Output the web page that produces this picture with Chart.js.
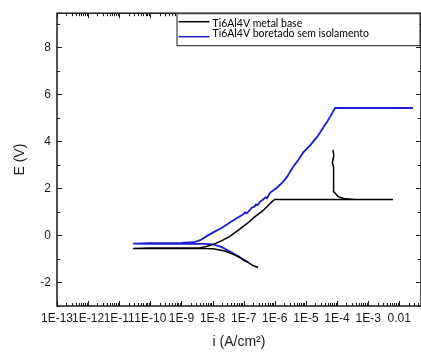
<!DOCTYPE html>
<html>
<head>
<meta charset="utf-8">
<script src="https://cdn.jsdelivr.net/npm/chart.js@4/dist/chart.umd.min.js"></script>
<style>
    body { margin: 0; background: #fff; }
    canvas { display: block; }
</style>
</head>
<body>
<canvas id="tafelChart" width="421" height="352"></canvas>
<script>
// Ti6Al4V metal base (black): i in A/cm2, E in V
const baseCurrent = [
    2.9e-7, 2.0e-7, 1.3e-7, 7.9e-8, 4.6e-8, 2.5e-8, 1.05e-8, 5.0e-9, 1.0e-9, 1.0e-10, 2.8e-11,
    1.0e-10, 1.0e-9, 4.0e-9, 6.3e-9, 1.05e-8, 2.0e-8, 3.6e-8, 7.1e-8, 1.3e-7, 2.2e-7, 3.9e-7,
    5.6e-7, 8.1e-7, 1.0e-6, 1.0e-5, 1.0e-4, 1.0e-3, 6.3e-3,
    3.8e-4, 1.6e-4, 1.1e-4, 7.9e-5, 7.6e-5, 7.9e-5, 7.1e-5, 7.9e-5, 7.4e-5
];
const basePotential = [
    -1.36, -1.28, -1.12, -0.95, -0.80, -0.66, -0.57, -0.56, -0.56, -0.56, -0.55,
    -0.53, -0.53, -0.52, -0.47, -0.38, -0.22, -0.04, 0.25, 0.51, 0.78, 1.02,
    1.22, 1.44, 1.53, 1.53, 1.53, 1.53, 1.53,
    1.53, 1.57, 1.65, 1.86, 2.40, 2.90, 3.10, 3.40, 3.64
];

// Ti6Al4V boretado sem isolamento (blue)
const boridedCurrent = [
    1.38e-7, 1.0e-7, 7.6e-8, 3.6e-8, 2.0e-8, 1.05e-8, 5.0e-9, 1.0e-9, 1.0e-10, 2.8e-11,
    1.0e-10, 1.0e-9, 2.5e-9, 4.0e-9, 6.3e-9, 1.05e-8, 2.0e-8, 3.6e-8, 6.3e-8, 9.5e-8,
    1.12e-7, 1.26e-7, 1.86e-7, 2.2e-7, 2.5e-7, 2.8e-7, 3.4e-7, 4.2e-7, 5.0e-7, 5.6e-7,
    7.1e-7, 1.17e-6, 1.86e-6, 2.5e-6, 3.1e-6, 3.9e-6, 5.6e-6, 8.1e-6,
    1.41e-5, 2.3e-5, 4.8e-5, 8.7e-5, 1.0e-3, 2.75e-2
];
const boridedPotential = [
    -1.14, -1.05, -0.93, -0.68, -0.50, -0.38, -0.36, -0.36, -0.36, -0.35,
    -0.33, -0.32, -0.29, -0.20, -0.04, 0.13, 0.33, 0.55, 0.75, 0.89,
    0.98, 0.94, 1.19, 1.22, 1.32, 1.29, 1.44, 1.53, 1.62, 1.58,
    1.82, 2.03, 2.29, 2.50, 2.71, 2.92, 3.20, 3.52,
    3.85, 4.19, 4.83, 5.42, 5.42, 5.42
];

const xMajorTicks = [1e-13, 1e-12, 1e-11, 1e-10, 1e-9, 1e-8, 1e-7, 1e-6, 1e-5, 1e-4, 1e-3, 1e-2];
const xTickLabels = ['1E-13', '1E-12', '1E-11', '1E-10', '1E-9', '1E-8', '1E-7', '1E-6', '1E-5', '1E-4', '1E-3', '0.01'];
const yMajorTicks = [-2, 0, 2, 4, 6, 8];
const yMinorTicks = [-3, -1, 1, 3, 5, 7, 9];

const X_MIN = 1e-13, X_MAX = 0.05;
const Y_MIN = -3, Y_MAX = 9.45;

function toPoints(xs, ys) {
    return xs.map((x, i) => ({ x: x, y: ys[i] }));
}

function xTickValues() {
    const vals = [];
    xMajorTicks.forEach(d => {
        for (let m = 1; m <= 9; m++) {
            const v = d * m;
            if (v <= X_MAX * 1.0001) vals.push(v);
        }
    });
    return vals;
}

function majorIndex(v) {
    return xMajorTicks.findIndex(d => Math.abs(v / d - 1) < 1e-6);
}

// frame box with inward ticks on all four sides
const frameTicks = {
    id: 'frameTicks',
    afterDatasetsDraw(chart) {
        const { ctx, chartArea: a, scales: { x, y } } = chart;
        ctx.save();
        ctx.strokeStyle = '#1a1a1a';
        ctx.lineWidth = 1;
        ctx.beginPath();
        x.ticks.forEach(t => {
            const px = Math.round(x.getPixelForValue(t.value)) + 0.5;
            const len = majorIndex(t.value) >= 0 ? 5 : 3;
            ctx.moveTo(px, a.bottom); ctx.lineTo(px, a.bottom - len);
            ctx.moveTo(px, a.top); ctx.lineTo(px, a.top + len);
        });
        y.ticks.forEach(t => {
            const py = Math.round(y.getPixelForValue(t.value)) + 0.5;
            const len = yMajorTicks.includes(t.value) ? 5 : 3;
            ctx.moveTo(a.left, py); ctx.lineTo(a.left + len, py);
            ctx.moveTo(a.right, py); ctx.lineTo(a.right - len, py);
        });
        ctx.stroke();
        ctx.lineWidth = 1.5;
        ctx.strokeRect(a.left, a.top, a.right - a.left, a.bottom - a.top);
        ctx.restore();
    }
};

// Origin style legend box in the top right corner
const boxLegend = {
    id: 'boxLegend',
    afterDraw(chart) {
        const { ctx, chartArea: a } = chart;
        const w = 243, h = 32;
        const lx = a.right - 1.5 - w, ly = a.top;
        ctx.save();
        ctx.fillStyle = '#fff';
        ctx.fillRect(lx, ly, w, h);
        ctx.strokeStyle = '#1a1a1a';
        ctx.lineWidth = 1;
        ctx.strokeRect(lx + 0.5, ly + 0.5, w, h);
        ctx.font = '10.5px Lato';
        ctx.textBaseline = 'middle';
        ctx.fillStyle = '#000';
        const lineY = [8.5, 23.5];
        const textY = [10.5, 20.5];
        chart.data.datasets.forEach((ds, i) => {
            ctx.strokeStyle = ds.borderColor;
            ctx.lineWidth = 1.5;
            ctx.beginPath();
            ctx.moveTo(lx + 2, ly + lineY[i]);
            ctx.lineTo(lx + 33, ly + lineY[i]);
            ctx.stroke();
            ctx.fillText(ds.label, lx + 36, ly + textY[i]);
        });
        ctx.restore();
    }
};

Chart.defaults.font.family = 'Liberation Sans';
Chart.defaults.color = '#1a1a1a';

new Chart(document.getElementById('tafelChart'), {
    type: 'line',
    data: {
        datasets: [{
            label: 'Ti6Al4V metal base',
            data: toPoints(baseCurrent, basePotential),
            borderColor: '#000000',
            borderWidth: 1.5,
            pointRadius: 0,
            tension: 0
        }, {
            label: 'Ti6Al4V boretado sem isolamento',
            data: toPoints(boridedCurrent, boridedPotential),
            borderColor: '#1c1cd2',
            borderWidth: 1.8,
            pointRadius: 0,
            tension: 0
        }]
    },
    options: {
        responsive: false,
        animation: false,
        devicePixelRatio: 1,
        layout: { padding: { top: 13, right: 0, left: 0, bottom: 0 } },
        plugins: { legend: { display: false }, tooltip: { enabled: false } },
        scales: {
            x: {
                type: 'logarithmic',
                min: X_MIN,
                max: X_MAX,
                afterBuildTicks: axis => { axis.ticks = xTickValues().map(v => ({ value: v })); },
                afterFit: axis => { axis.height = 46; axis.paddingRight = 0; },
                ticks: {
                    autoSkip: false,
                    maxRotation: 0,
                    padding: 5,
                    font: { size: 12 },
                    callback: v => {
                        const k = majorIndex(v);
                        return k >= 0 ? xTickLabels[k] : '';
                    }
                },
                grid: { drawOnChartArea: false, drawTicks: false },
                border: { display: false },
                title: {
                    display: true,
                    text: 'i (A/cm²)',
                    font: { size: 14 },
                    padding: { top: 0, bottom: 1 }
                }
            },
            y: {
                type: 'linear',
                min: Y_MIN,
                max: Y_MAX,
                afterBuildTicks: axis => {
                    axis.ticks = yMajorTicks.concat(yMinorTicks).sort((p, q) => p - q).map(v => ({ value: v }));
                },
                afterFit: axis => { axis.width = 57; },
                ticks: {
                    padding: 6,
                    font: { size: 12 },
                    callback: v => yMajorTicks.includes(v) ? String(v) : ''
                },
                grid: { drawOnChartArea: false, drawTicks: false },
                border: { display: false },
                title: {
                    display: true,
                    text: 'E (V)',
                    font: { size: 14 },
                    padding: { top: 12, bottom: 0 }
                }
            }
        }
    },
    plugins: [frameTicks, boxLegend]
});
</script>
</body>
</html>
